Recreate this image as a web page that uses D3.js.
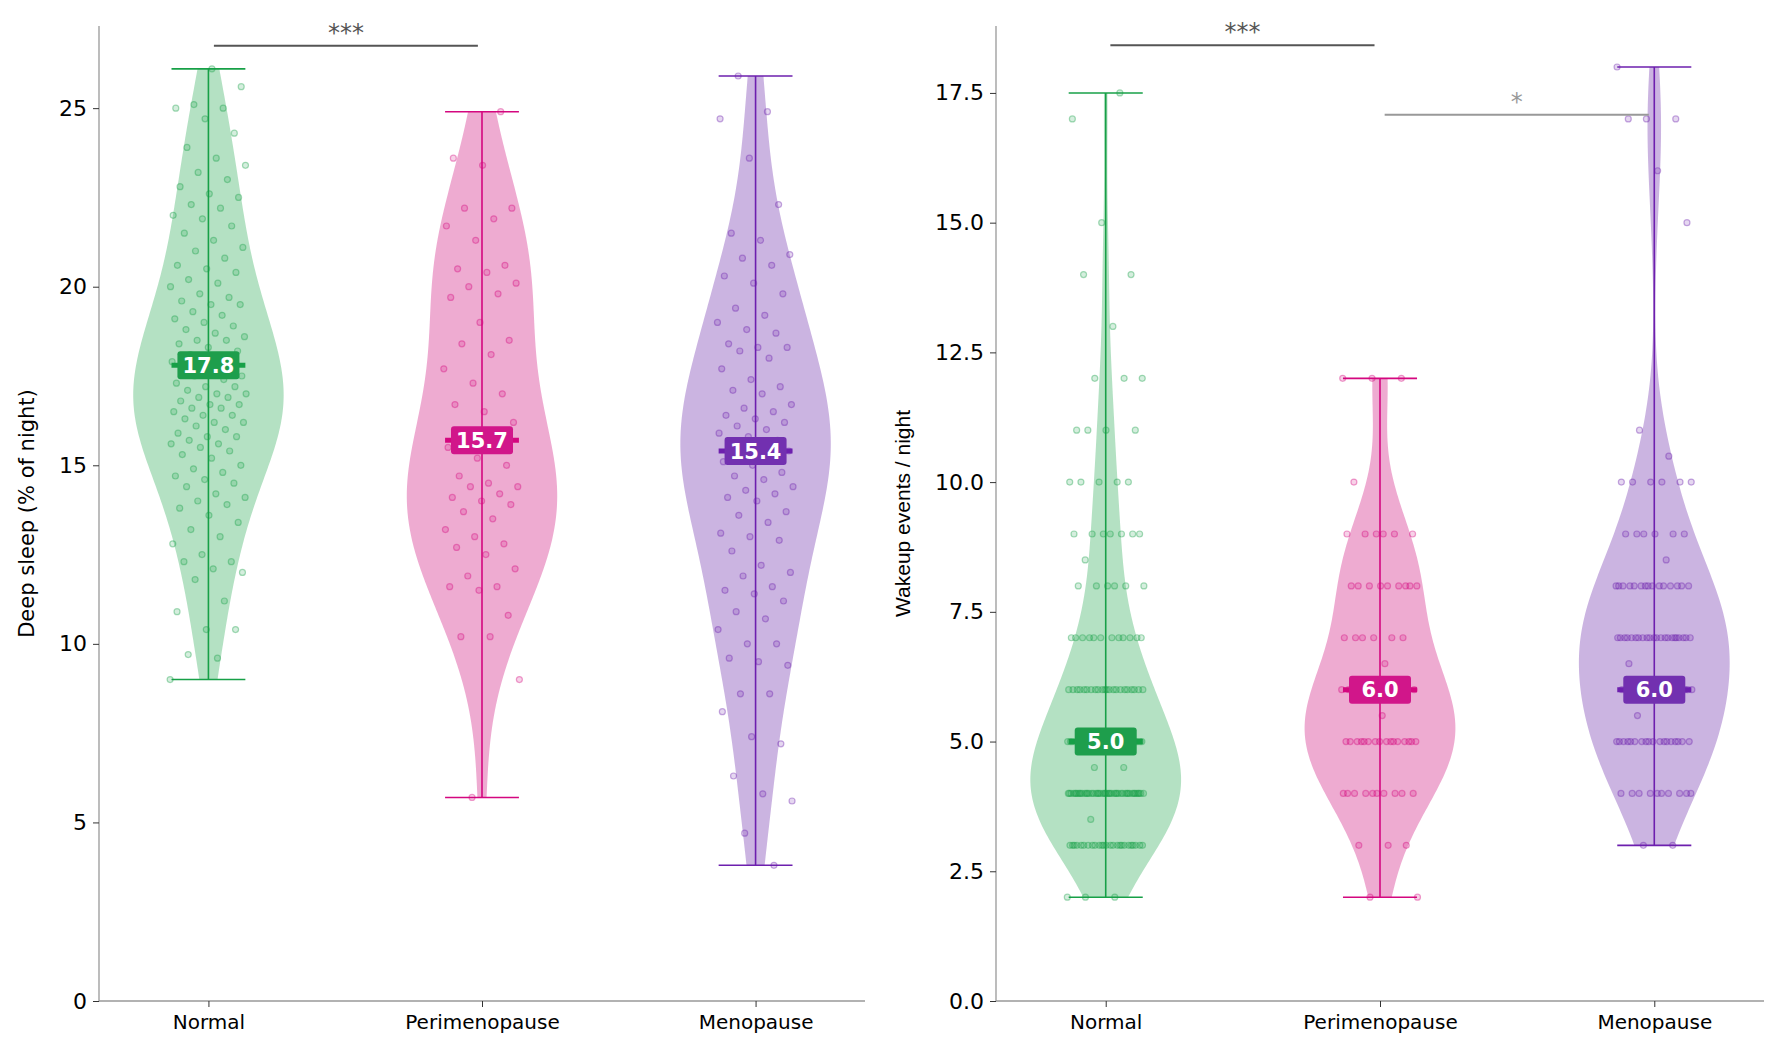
<!DOCTYPE html>
<html><head><meta charset="utf-8">
<script src="https://cdn.jsdelivr.net/npm/d3@7"></script>
<style>body{margin:0;background:#fff}svg{font-family:"DejaVu Sans",sans-serif}</style>
</head><body>
<svg id="chart" width="1781" height="1058"></svg>
<script>
const groups = ['Normal', 'Perimenopause', 'Menopause'];
const lineColors = ['#17a047', '#d4077f', '#6d1fae'];
const fillColors = ['#b0dfc0', '#eda6cf', '#c8b0df'];
const boxColors = ['#1e9e4c', '#d1168a', '#7230b0'];

const deepNormal = [9.0, 9.6, 9.7, 10.4, 10.4, 10.9, 11.2, 11.8, 12.0, 12.1, 12.3, 12.3, 12.5, 12.8, 13.0, 13.2, 13.4, 13.6, 13.8, 13.9, 14.0, 14.1, 14.2, 14.4, 14.5, 14.6, 14.7, 14.8, 14.9, 15.0, 15.2, 15.3, 15.4, 15.5, 15.6, 15.6, 15.7, 15.8, 15.8, 15.9, 16.0, 16.1, 16.2, 16.2, 16.3, 16.4, 16.4, 16.5, 16.6, 16.6, 16.7, 16.7, 16.8, 16.9, 16.9, 17.0, 17.0, 17.1, 17.2, 17.2, 17.3, 17.4, 17.5, 17.5, 17.6, 17.7, 17.8, 17.8, 17.9, 18.0, 18.1, 18.2, 18.3, 18.4, 18.5, 18.5, 18.6, 18.7, 18.8, 18.9, 19.0, 19.1, 19.2, 19.3, 19.5, 19.5, 19.6, 19.7, 19.8, 20.0, 20.1, 20.2, 20.4, 20.5, 20.6, 20.8, 21.0, 21.1, 21.3, 21.5, 21.7, 21.9, 22.0, 22.2, 22.3, 22.5, 22.6, 22.8, 23.0, 23.2, 23.4, 23.6, 23.9, 24.3, 24.7, 25.0, 25.0, 25.1, 25.6, 26.1];
const deepPeri = [5.7, 9.0, 10.2, 10.2, 10.8, 11.5, 11.6, 11.6, 11.9, 12.1, 12.5, 12.7, 12.8, 13.0, 13.2, 13.5, 13.7, 13.9, 14.0, 14.1, 14.2, 14.4, 14.4, 14.5, 14.7, 15.0, 15.2, 15.5, 15.7, 15.9, 16.2, 16.5, 16.7, 17.0, 17.3, 17.7, 18.1, 18.4, 18.5, 19.0, 19.7, 19.8, 20.0, 20.1, 20.4, 20.5, 20.6, 21.3, 21.7, 21.9, 22.2, 22.2, 23.4, 23.6, 24.9];
const deepMeno = [3.8, 4.7, 5.6, 5.8, 6.3, 7.2, 7.4, 8.1, 8.6, 8.6, 9.4, 9.5, 9.6, 10.0, 10.0, 10.4, 10.7, 10.9, 11.2, 11.4, 11.5, 11.6, 11.9, 12.0, 12.2, 12.6, 12.9, 13.0, 13.1, 13.4, 13.6, 13.7, 14.0, 14.1, 14.2, 14.3, 14.4, 14.6, 14.7, 14.8, 15.0, 15.1, 15.2, 15.3, 15.4, 15.5, 15.5, 15.7, 15.8, 15.9, 16.0, 16.1, 16.2, 16.3, 16.4, 16.5, 16.6, 16.7, 17.0, 17.1, 17.2, 17.4, 17.7, 18.0, 18.2, 18.3, 18.3, 18.4, 18.7, 18.8, 19.0, 19.2, 19.4, 19.8, 20.1, 20.3, 20.6, 20.8, 20.9, 21.3, 21.5, 22.3, 23.6, 24.7, 24.9, 25.9];
const deepMedians = [17.8, 15.7, 15.4];

// wakeup counts: [value, number of nights]
const wakeNormal = [[2, 3], [3, 25], [3.5, 1], [4, 45], [4.5, 2], [5, 30], [6, 22], [7, 12], [8, 6], [8.5, 1], [9, 7], [10, 5], [11, 4], [12, 3], [13, 1], [14, 2], [15, 1], [17, 1], [17.5, 1]];
const wakePeri = [[2, 2], [3, 3], [4, 10], [5, 16], [5.5, 1], [6, 12], [6.5, 1], [7, 6], [8, 9], [9, 6], [10, 1], [12, 3]];
const wakeMeno = [[3, 2], [4, 10], [5, 18], [5.5, 1], [6, 15], [6.5, 1], [7, 22], [8, 15], [8.5, 1], [9, 6], [10, 6], [10.5, 1], [11, 1], [15, 1], [16, 1], [17, 3], [18, 1]];
const wakeMedians = [5.0, 6.0, 6.0];

const deepTicks = [0, 5, 10, 15, 20, 25];
const wakeTicks = [0, 2.5, 5, 7.5, 10, 12.5, 15, 17.5];

const expand = (pairs) => pairs.flatMap(([v, n]) => d3.range(n).map(() => v));

const svg = d3.select('#chart');

function kde(values, n = 120) {
    const sd = d3.deviation(values);
    const bw = sd * Math.pow(values.length, -1 / 5);
    const [lo, hi] = d3.extent(values);
    return d3.range(n).map((i) => {
        const y = lo + ((hi - lo) * i) / (n - 1);
        const d = d3.mean(values, (v) => Math.exp(-0.5 * ((y - v) / bw) ** 2));
        return [y, d];
    });
}

function drawPanel(opts) {
    const { x0, x1, y0, y1, domain, ticks, fmt, data, medians, label, labelX, labelFont, sig } = opts;
    const g = svg.append('g');
    const x = d3.scaleLinear().domain([-0.4, 2.4]).range([x0, x1]);
    const y = d3.scaleLinear().domain(domain).range([y1, y0]);
    const halfW = 0.275;

    data.forEach((values, i) => {
        const dens = kde(values);
        const maxD = d3.max(dens, (d) => d[1]);
        const area = d3.area()
            .y((d) => y(d[0]))
            .x0((d) => x(i - (d[1] / maxD) * halfW))
            .x1((d) => x(i + (d[1] / maxD) * halfW))
            .curve(d3.curveBasis);
        g.append('path').datum(dens).attr('d', area).attr('fill', fillColors[i]).attr('opacity', 0.95);

        const [lo, hi] = d3.extent(values);
        g.append('line').attr('x1', x(i)).attr('x2', x(i)).attr('y1', y(lo)).attr('y2', y(hi))
            .attr('stroke', lineColors[i]).attr('stroke-width', 1.6);
        [lo, hi].forEach((v) => {
            g.append('line').attr('x1', x(i - 0.135)).attr('x2', x(i + 0.135)).attr('y1', y(v)).attr('y2', y(v))
                .attr('stroke', lineColors[i]).attr('stroke-width', 1.6);
        });

        g.selectAll(null).data(values).join('circle')
            .attr('cx', (v, k) => x(i + (((k * 0.618034 + i * 0.37) % 1) - 0.5) * 0.28))
            .attr('cy', (v) => y(v))
            .attr('r', 3)
            .attr('fill', lineColors[i]).attr('fill-opacity', 0.18)
            .attr('stroke', lineColors[i]).attr('stroke-opacity', 0.38).attr('stroke-width', 1.2);

        const m = medians[i];
        g.append('line').attr('x1', x(i - 0.135)).attr('x2', x(i + 0.135)).attr('y1', y(m)).attr('y2', y(m))
            .attr('stroke', lineColors[i]).attr('stroke-width', 5);
        g.append('rect').attr('x', x(i) - 31).attr('y', y(m) - 14).attr('width', 62).attr('height', 28)
            .attr('rx', 3).attr('fill', boxColors[i]);
        g.append('text').attr('x', x(i)).attr('y', y(m)).attr('dy', '0.36em').attr('text-anchor', 'middle')
            .attr('fill', '#fff').attr('font-weight', 'bold').attr('font-size', 21).text(m.toFixed(1));
    });

    sig.forEach((s) => {
        g.append('line').attr('x1', x(s.from)).attr('x2', x(s.to)).attr('y1', y(s.at)).attr('y2', y(s.at))
            .attr('stroke', s.color).attr('stroke-width', 2);
        g.append('text').attr('x', x((s.from + s.to) / 2)).attr('y', y(s.at) - 5).attr('text-anchor', 'middle')
            .attr('fill', s.color).attr('font-size', 24).text(s.text);
    });

    const yAxis = g.append('g').attr('transform', `translate(${x0},0)`)
        .call(d3.axisLeft(y).tickValues(ticks).tickFormat(fmt).tickSize(6).tickPadding(6));
    const xAxis = g.append('g').attr('transform', `translate(0,${y1})`)
        .call(d3.axisBottom(x).tickValues([0, 1, 2]).tickFormat((d) => groups[d]).tickSize(6).tickPadding(8));
    [yAxis, xAxis].forEach((a) => {
        a.select('.domain').attr('stroke', '#999').attr('stroke-width', 1.3);
        a.selectAll('.tick line').attr('stroke', '#333');
        a.selectAll('.tick text').attr('fill', '#000').attr('font-family', 'DejaVu Sans');
    });
    yAxis.selectAll('.tick text').attr('font-size', 22);
    xAxis.selectAll('.tick text').attr('font-size', 20);
    yAxis.select('.domain').attr('d', `M0,${y0}V${y1}`);
    xAxis.select('.domain').attr('d', `M${x0},0H${x1}`);

    g.append('text').attr('transform', `translate(${labelX},${(y0 + y1) / 2}) rotate(-90)`)
        .attr('text-anchor', 'middle').attr('font-size', 21).attr('font-family', labelFont).text(label);
}

drawPanel({
    x0: 99, x1: 865, y0: 26, y1: 1001, domain: [0, 27.3], ticks: deepTicks, fmt: d3.format('d'),
    data: [deepNormal, deepPeri, deepMeno], medians: deepMedians,
    label: 'Deep sleep (% of night)', labelX: 34, labelFont: 'DejaVu Sans',
    sig: [{ from: 0.02, to: 0.985, at: 26.75, text: '***', color: '#555' }],
});

drawPanel({
    x0: 996, x1: 1764, y0: 26, y1: 1001, domain: [0, 18.79], ticks: wakeTicks, fmt: d3.format('.1f'),
    data: [expand(wakeNormal), expand(wakePeri), expand(wakeMeno)], medians: wakeMedians,
    label: 'Wakeup events / night', labelX: 910, labelFont: '"Liberation Sans Narrow", "Liberation Sans"',
    sig: [
        { from: 0.017, to: 0.98, at: 18.42, text: '***', color: '#555' },
        { from: 1.017, to: 1.98, at: 17.08, text: '*', color: '#999' },
    ],
});
</script>
</body></html>
